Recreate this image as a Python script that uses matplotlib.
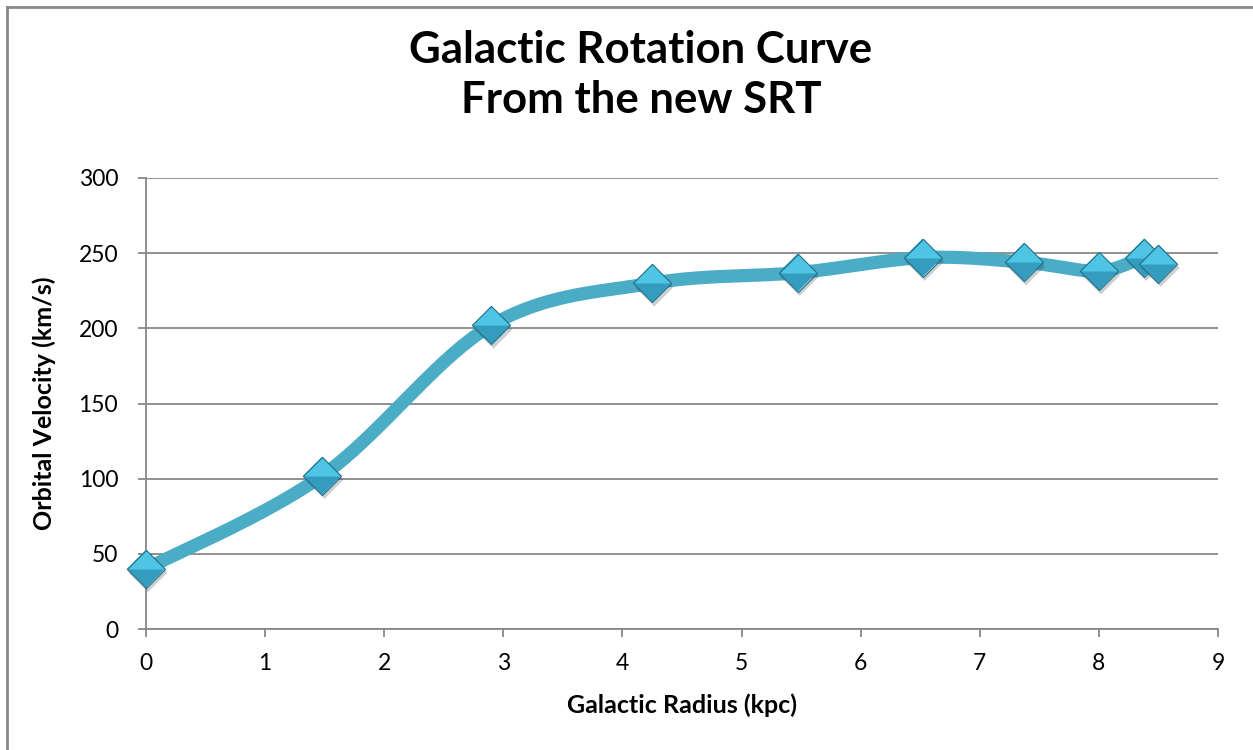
import numpy as np
import matplotlib
matplotlib.use('Agg')
import matplotlib.pyplot as plt
from matplotlib.path import Path
from matplotlib.lines import Line2D
import matplotlib.patheffects as pe

# galactic radius (kpc) and orbital velocity (km/s)
radius_kpc = [0.0, 1.48, 2.90, 4.25, 5.47, 6.52, 7.37, 8.0, 8.38, 8.50]
velocity_kms = [40, 102, 202, 230, 237, 247, 244, 238, 247, 243]

x_ticks = [0, 1, 2, 3, 4, 5, 6, 7, 8, 9]
y_ticks = [0, 50, 100, 150, 200, 250, 300]

LINE = '#4BACC6'
DIAMOND_DARK = '#349DBF'
DIAMOND_LIGHT = '#4FC5E5'
DIAMOND_EDGE = '#23708A'
GRID = '#888888'
FONT = ['Lato', 'DejaVu Sans']

plt.rcParams['font.family'] = FONT


def smooth_curve(ax, xs, ys, n=40):
    """Bezier smoothing in display space, like a spreadsheet 'smoothed line'."""
    pts = ax.transData.transform(np.column_stack([xs, ys]))
    out = []
    for i in range(len(pts) - 1):
        p0 = pts[i - 1] if i > 0 else pts[i]
        p1, p2 = pts[i], pts[i + 1]
        p3 = pts[i + 2] if i + 2 < len(pts) else pts[i + 1]
        c1 = p1 + (p2 - p0) / 6.0
        c2 = p2 - (p3 - p1) / 6.0
        t = np.linspace(0, 1, n)[:, None]
        seg = ((1 - t) ** 3) * p1 + 3 * ((1 - t) ** 2) * t * c1 \
            + 3 * (1 - t) * t ** 2 * c2 + t ** 3 * p2
        out.append(seg if i == 0 else seg[1:])
    out = np.vstack(out)
    return ax.transData.inverted().transform(out).T


fig = plt.figure(figsize=(12.53, 7.5), dpi=100)
ax = fig.add_axes([0.1165, 0.1613, 0.8556, 0.6014])

ax.set_xlim(0, 9)
ax.set_ylim(0, 300)
ax.set_xticks(x_ticks)
ax.set_yticks(y_ticks)

for s in ('top', 'right'):
    ax.spines[s].set_visible(False)
for s in ('left', 'bottom'):
    ax.spines[s].set_color(GRID)
    ax.spines[s].set_linewidth(1.3)
ax.yaxis.grid(True, color=GRID, lw=1.3)
ax.set_axisbelow(True)
ax.tick_params(length=6, width=1.3, color=GRID, labelsize=16.5)
ax.tick_params(axis='x', pad=11)
ax.tick_params(axis='y', pad=14)

sx, sy = smooth_curve(ax, radius_kpc, velocity_kms)
ax.plot(sx, sy, color=LINE, lw=9.5, solid_capstyle='butt', zorder=3)

# diamond markers per point: shadowed dark diamond, light top half, outline
# (both paths span -1..1 in x and y so they scale identically)
diamond = Path([(0, 1), (1, 0), (0, -1), (-1, 0), (0, 1)])
top_half = Path([(-1, 0), (0, 1), (1, 0), (-1, 0), (0, -1)],
                [Path.MOVETO, Path.LINETO, Path.LINETO, Path.LINETO, Path.MOVETO])
MS = 27.5
for x, v in zip(radius_kpc, velocity_kms):
    ax.plot([x], [v], ls='none', marker=diamond, ms=MS, mfc=DIAMOND_DARK,
            mew=0, zorder=4, clip_on=False,
            path_effects=[pe.SimplePatchShadow(offset=(1.5, -3), alpha=0.22),
                          pe.Normal()])
    ax.plot([x], [v], ls='none', marker=top_half, ms=MS,
            mfc=DIAMOND_LIGHT, mew=0, zorder=4, clip_on=False)
    ax.plot([x], [v], ls='none', marker=diamond, ms=MS, mfc='none',
            mec=DIAMOND_EDGE, mew=0.8, zorder=4, clip_on=False)

ax.set_xlabel('Galactic Radius (kpc)', fontsize=18, fontweight='bold', labelpad=14)
ax.set_ylabel('Orbital Velocity (km/s)', fontsize=18, fontweight='bold', labelpad=16)

fig.text(0.5116, 0.9, 'Galactic Rotation Curve\nFrom the new SRT', ha='center',
         va='center', fontsize=31.5, fontweight='bold', linespacing=1.3)

# chart frame (left and top edges fall inside the canvas)
fig.add_artist(Line2D([7 / 1253, 7 / 1253], [0, 1 - 7 / 750],
                      transform=fig.transFigure, color=GRID, lw=2))
fig.add_artist(Line2D([7 / 1253, 1], [1 - 7 / 750, 1 - 7 / 750],
                      transform=fig.transFigure, color=GRID, lw=2))

fig.savefig('out.png', dpi=100, facecolor='white')
